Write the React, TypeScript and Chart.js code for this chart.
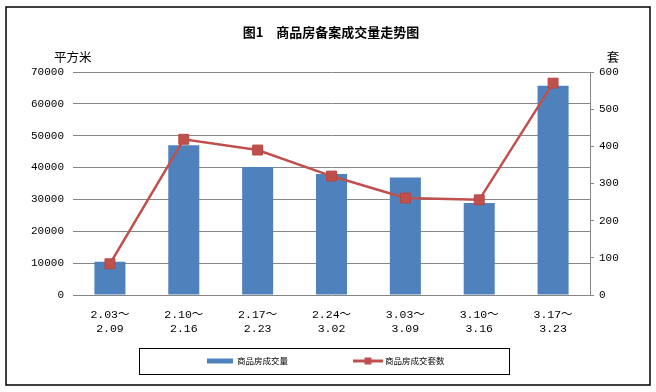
import React, { useEffect, useRef } from "react";
import { Chart, registerables } from "chart.js";

Chart.register(...registerables);

const chartTitle = "图1　商品房备案成交量走势图";
const leftAxisTitle = "平方米";
const rightAxisTitle = "套";
const categories: string[][] = [
  ["2.03～", "2.09"],
  ["2.10～", "2.16"],
  ["2.17～", "2.23"],
  ["2.24～", "3.02"],
  ["3.03～", "3.09"],
  ["3.10～", "3.16"],
  ["3.17～", "3.23"],
];
const areaLabel = "商品房成交量";
const areaValues = [10400, 47000, 40200, 38000, 36900, 28900, 65700];
const unitLabel = "商品房成交套数";
const unitValues = [84, 419, 390, 320, 261, 256, 570];
const leftMax = 70000;
const leftStep = 10000;
const rightMax = 600;
const rightStep = 100;

const BAR_COLOR = "#4F81BD";
const LINE_COLOR = "#C0504D";
const GRID = "#868686";
const MONO = "'Liberation Mono', 'Noto Sans CJK SC', monospace";
const CJK = "'Noto Sans CJK SC', 'DejaVu Sans', sans-serif";

const decor = {
  id: "decor",
  beforeDraw(chart: any) {
    const { ctx, width, height } = chart;
    ctx.save();
    ctx.fillStyle = "#ffffff";
    ctx.fillRect(0, 0, width, height);
    ctx.restore();
  },
  afterDraw(chart: any) {
    const { ctx, chartArea } = chart;
    ctx.save();
    ctx.strokeStyle = "#000000";
    ctx.lineWidth = 1.5;
    ctx.strokeRect(6, 7, 644, 378);
    ctx.fillStyle = "#000000";
    ctx.textAlign = "center";
    ctx.textBaseline = "middle";
    ctx.font = `bold 13px ${CJK}`;
    ctx.fillText(chartTitle, 331, 32);
    ctx.font = `12.5px ${CJK}`;
    ctx.textAlign = "left";
    ctx.fillText(leftAxisTitle, 54, 57);
    ctx.textAlign = "center";
    ctx.fillText(rightAxisTitle, chartArea.right + 23, 57);
    ctx.lineWidth = 1;
    ctx.strokeStyle = "#000000";
    ctx.strokeRect(139.5, 348.5, 370, 26);
    const ly = 361;
    ctx.fillStyle = BAR_COLOR;
    ctx.fillRect(207, ly - 2.5, 26, 5);
    ctx.fillStyle = "#000000";
    ctx.font = `8.5px ${CJK}`;
    ctx.textAlign = "left";
    ctx.textBaseline = "middle";
    ctx.fillText(chart.data.datasets[0].label, 237, ly);
    ctx.strokeStyle = LINE_COLOR;
    ctx.lineWidth = 3;
    ctx.beginPath();
    ctx.moveTo(353, ly);
    ctx.lineTo(383, ly);
    ctx.stroke();
    ctx.fillStyle = LINE_COLOR;
    ctx.fillRect(364.5, ly - 3.5, 7, 7);
    ctx.fillStyle = "#000000";
    ctx.fillText(chart.data.datasets[1].label, 385, ly);
    ctx.restore();
  },
};

export default function App() {
  const ref = useRef<HTMLCanvasElement | null>(null);
  useEffect(() => {
    document.body.style.margin = "0";
    if (!ref.current) return;
    const chart = new Chart(ref.current, {
      type: "bar",
      data: {
        labels: categories,
        datasets: [
          {
            type: "bar",
            label: areaLabel,
            data: areaValues,
            backgroundColor: BAR_COLOR,
            yAxisID: "y",
            order: 2,
            categoryPercentage: 1,
            barPercentage: 0.42,
          } as any,
          {
            type: "line",
            label: unitLabel,
            data: unitValues,
            borderColor: LINE_COLOR,
            backgroundColor: LINE_COLOR,
            borderWidth: 2.5,
            pointStyle: "rect",
            pointRadius: 7,
            pointBorderColor: "#B64541",
            pointBorderWidth: 1,
            pointBackgroundColor: LINE_COLOR,
            yAxisID: "y1",
            order: 1,
            tension: 0,
          } as any,
        ],
      },
      options: {
        responsive: false,
        animation: false,
        layout: { padding: { top: 72, left: 0, right: 0, bottom: 0 } },
        plugins: {
          legend: { display: false },
          title: { display: false },
          tooltip: { enabled: false },
        },
        scales: {
          x: {
            grid: { display: false },
            border: { display: false },
            ticks: {
              color: "#000000",
              font: { family: MONO, size: 11.5, lineHeight: 1.3 },
              padding: 4,
              maxRotation: 0,
              autoSkip: false,
            },
            afterFit: (s: any) => {
              s.height = 97;
            },
          },
          y: {
            position: "left",
            min: 0,
            max: leftMax,
            grid: { color: GRID, lineWidth: 1, drawTicks: false },
            border: { display: false },
            ticks: {
              stepSize: leftStep,
              color: "#000000",
              font: { family: MONO, size: 11 },
              padding: 9,
              callback: (v: any) => String(v),
            },
            afterFit: (s: any) => {
              s.width = 73;
            },
          },
          y1: {
            position: "right",
            min: 0,
            max: rightMax,
            grid: {
              drawOnChartArea: false,
              drawTicks: true,
              tickLength: 4,
              color: GRID,
            },
            border: { display: true, color: GRID, width: 1 },
            ticks: {
              stepSize: rightStep,
              color: "#000000",
              font: { family: MONO, size: 11 },
              padding: 5,
              callback: (v: any) => String(v),
            },
            afterFit: (s: any) => {
              s.width = 66;
            },
          },
        },
      },
      plugins: [decor],
    });
    return () => chart.destroy();
  }, []);
  return (
    <div style={{ position: "fixed", left: 0, top: 0, width: 656, height: 392, background: "#fff" }}>
      <canvas ref={ref} width={656} height={392} style={{ width: 656, height: 392, display: "block" }} />
    </div>
  );
}
